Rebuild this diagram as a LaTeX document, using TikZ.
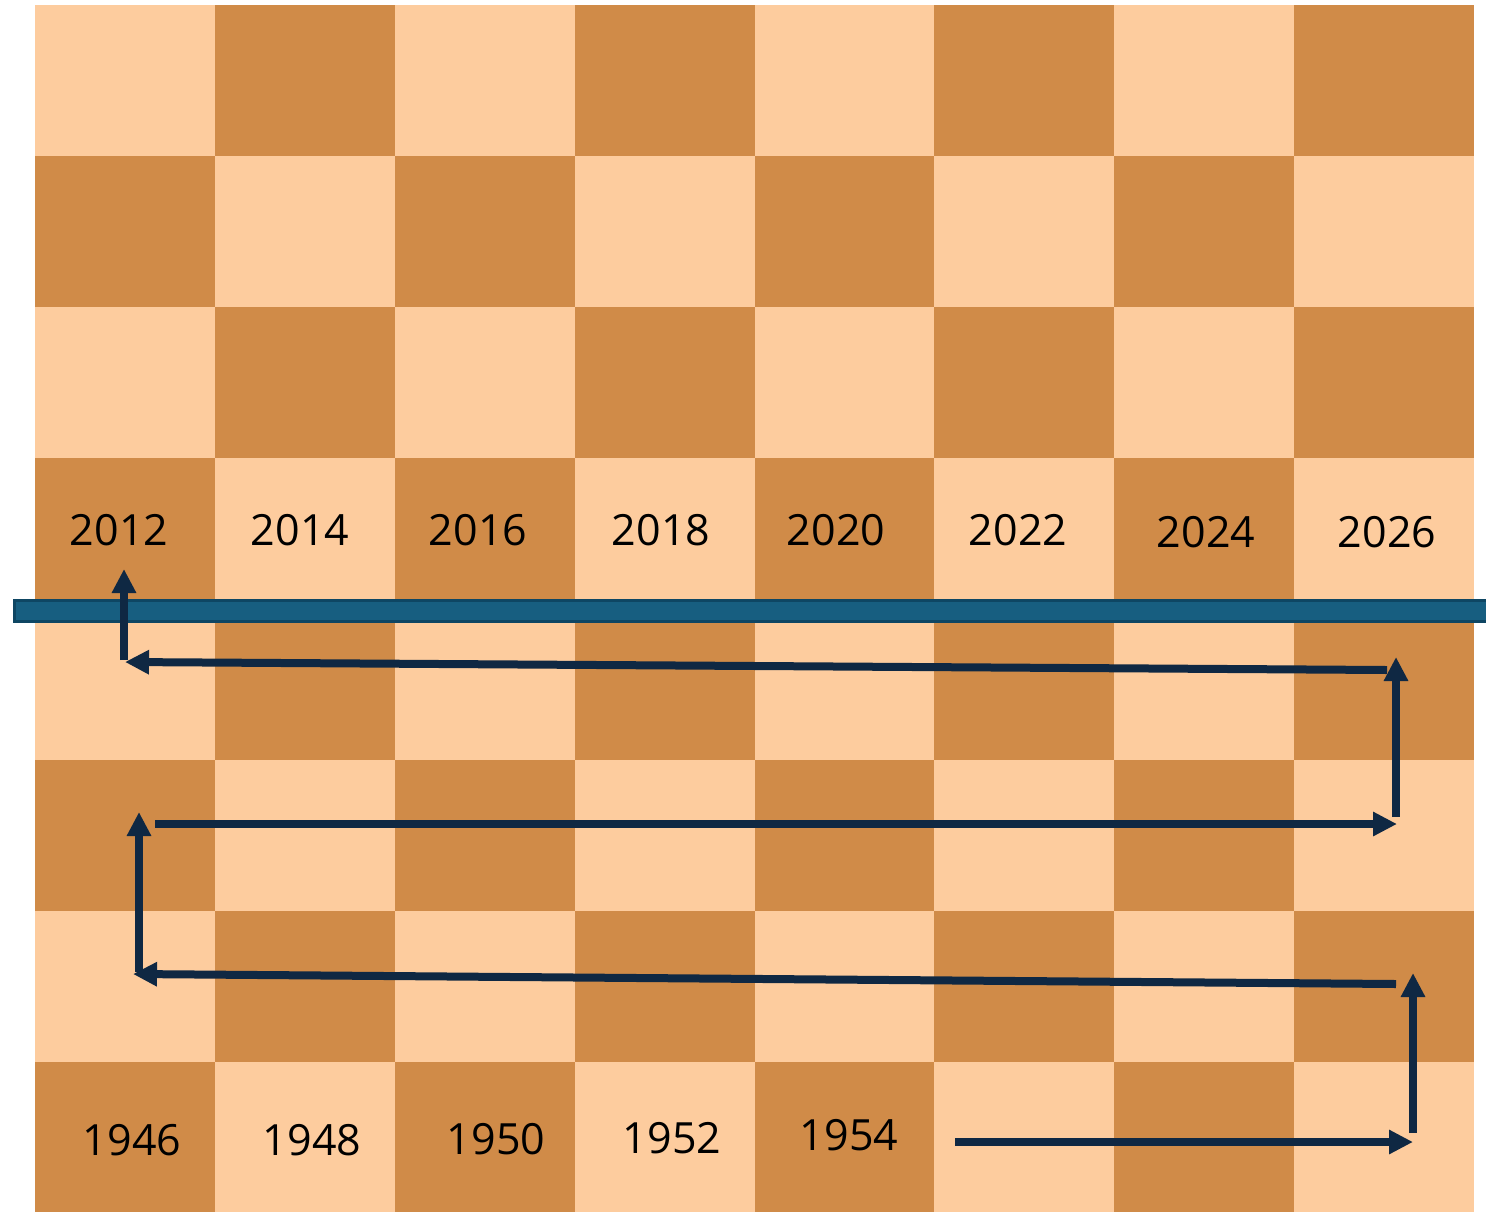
\documentclass[tikz,border=0pt]{standalone}
\usepackage{fontspec}
\setmainfont{Open Sans}
\usetikzlibrary{arrows.meta}
\definecolor{sqlight}{HTML}{FDCC9E}
\definecolor{sqdark}{HTML}{D08B48}
\definecolor{barfill}{HTML}{175E80}
\definecolor{barline}{HTML}{0E4663}
\definecolor{arrowc}{HTML}{0F2843}
\tikzset{
  year/.style={anchor=base, font=\fontsize{43}{50}\selectfont, text=black, inner sep=0pt},
  flow/.style={draw=arrowc, line width=8pt, -{Triangle[length=24pt,width=23pt]}},
}
\begin{document}
\begin{tikzpicture}[x=1pt,y=-1pt]
\useasboundingbox (0,0) rectangle (1486,1211);
\begin{scope}
\clip (0,0) rectangle (1486,1211);
\fill[white] (0,0) rectangle (1486,1211);
\foreach \r in {0,...,7}{
  \foreach \c in {0,...,7}{
    \pgfmathtruncatemacro{\myparity}{mod(\r+\c,2)}
    \ifnum\myparity=0
      \fill[sqlight] ({35+179.875*\c},{5+151*\r}) rectangle ({35+179.875*(\c+1)},{5+151*(\r+1)});
    \else
      \fill[sqdark] ({35+179.875*\c},{5+151*\r}) rectangle ({35+179.875*(\c+1)},{5+151*(\r+1)});
    \fi
  }
}
\end{scope}
% labels
\node[year] (y2012) at (119,545) {2012};
\node[year] (y2014) at (300,545) {2014};
\node[year] (y2016) at (478,545) {2016};
\node[year] (y2018) at (661,545) {2018};
\node[year] (y2020) at (836,545) {2020};
\node[year] (y2022) at (1018,545) {2022};
\node[year] (y2024) at (1206,547) {2024};
\node[year] (y2026) at (1387,547) {2026};
\node[year] (y1946) at (132,1155) {1946};
\node[year] (y1948) at (312,1155) {1948};
\node[year] (y1950) at (496,1154) {1950};
\node[year] (y1952) at (672,1153) {1952};
\node[year] (y1954) at (849,1150) {1954};
% bar
\node[draw=barline, fill=barfill, line width=3pt, minimum width=1479pt, minimum height=21pt, inner sep=0pt, anchor=north west] (bar) at (12.5,598.5) {};
% path coordinates
\coordinate (a1s) at (955,1142);  \coordinate (a1e) at (1413,1142);
\coordinate (a2s) at (1413,1133); \coordinate (a2e) at (1413,973);
\coordinate (a3s) at (1396,984);  \coordinate (a3e) at (133,974);
\coordinate (a4s) at (139,972);   \coordinate (a4e) at (139,812);
\coordinate (a5s) at (155,824);   \coordinate (a5e) at (1397,824);
\coordinate (a6s) at (1396,817);  \coordinate (a6e) at (1396,657);
\coordinate (a7s) at (1387,670);  \coordinate (a7e) at (125,662);
\coordinate (a8s) at (124,660);   \coordinate (a8e) at (124,569);
\draw[flow] (a1s) -- (a1e);
\draw[flow] (a2s) -- (a2e);
\draw[flow] (a3s) -- (a3e);
\draw[flow] (a4s) -- (a4e);
\draw[flow] (a5s) -- (a5e);
\draw[flow] (a6s) -- (a6e);
\draw[flow] (a7s) -- (a7e);
\draw[flow] (a8s) -- (a8e);
\end{tikzpicture}
\end{document}
